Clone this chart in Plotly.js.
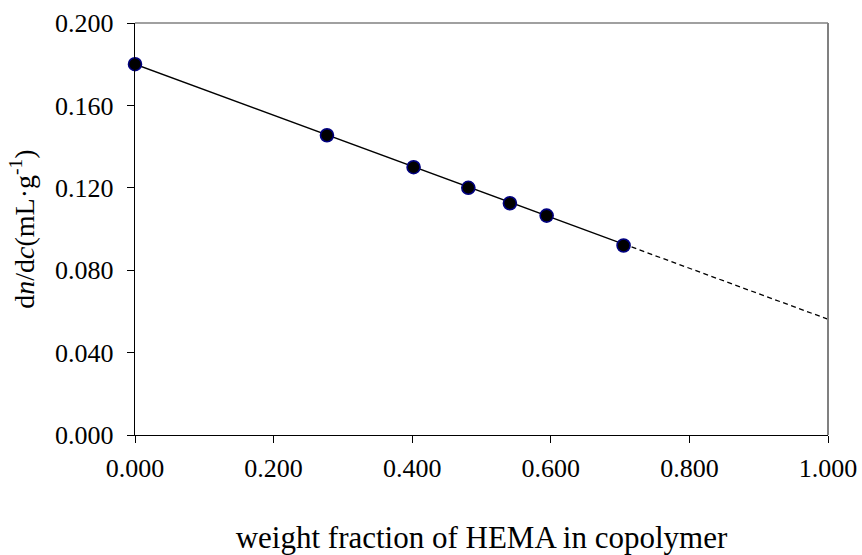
<!DOCTYPE html>
<html>
<head>
<meta charset="utf-8">
<script src="https://cdn.plot.ly/plotly-3.0.1.min.js"></script>
<style>
  html, body { margin: 0; padding: 0; background: #ffffff; }
  #chart { width: 862px; height: 555px; }
</style>
</head>
<body>
<div id="chart"></div>
<script>
// Measured refractive index increment vs. HEMA weight fraction
const hemaFraction = [0.000, 0.277, 0.402, 0.481, 0.541, 0.594, 0.705];
const dndc = [0.180, 0.1455, 0.130, 0.120, 0.1125, 0.1065, 0.092];

// Linear fit: solid over the measured range, dashed extrapolation to 1
const fitX = [0.000, 0.705];
const fitY = [0.180, 0.0927];
const extX = [0.705, 1.000];
const extY = [0.0927, 0.0562];

// Axis ticks
const xTicks = [0.0, 0.2, 0.4, 0.6, 0.8, 1.0];
const yTicks = [0.00, 0.04, 0.08, 0.12, 0.16, 0.20];

const serif = 'Liberation Serif, Times New Roman, serif';

const traces = [
  {
    x: fitX, y: fitY, type: 'scatter', mode: 'lines',
    line: { color: '#000000', width: 1.3 },
    hoverinfo: 'skip', showlegend: false
  },
  {
    x: extX, y: extY, type: 'scatter', mode: 'lines',
    line: { color: '#000000', width: 1.3, dash: '5px,3.5px' },
    hoverinfo: 'skip', showlegend: false
  },
  {
    x: hemaFraction, y: dndc, type: 'scatter', mode: 'markers',
    marker: { color: '#000000', size: 13, line: { color: '#000080', width: 1.6 } },
    cliponaxis: false, showlegend: false
  }
];

const layout = {
  width: 862, height: 555,
  margin: { l: 135, r: 34, t: 23, b: 120 },
  paper_bgcolor: '#ffffff', plot_bgcolor: '#ffffff',
  font: { family: serif, color: '#000000' },
  showlegend: false,
  xaxis: {
    range: [0, 1], tickvals: xTicks, tickformat: '.3f',
    showgrid: false, zeroline: false,
    showline: true, linecolor: '#000000', linewidth: 1.3,
    ticks: 'outside', ticklen: 7, tickwidth: 1, tickcolor: '#000000',
    ticklabelstandoff: 2,
    tickfont: { family: serif, size: 26, color: '#000000' },
    title: { text: 'weight fraction of HEMA in copolymer', font: { family: serif, size: 31, color: '#000000' }, standoff: 44 },
    automargin: false
  },
  yaxis: {
    range: [0, 0.2], tickvals: yTicks, tickformat: '.3f',
    showgrid: false, zeroline: false,
    showline: true, linecolor: '#000000', linewidth: 1.3,
    ticks: 'outside', ticklen: 7, tickwidth: 1, tickcolor: '#000000',
    ticklabelstandoff: 8,
    tickfont: { family: serif, size: 26, color: '#000000' },
    title: { text: 'd<i>n</i>/d<i>c</i>(mL·g<sup>-1</sup>)', font: { family: serif, size: 28, color: '#000000' }, standoff: 12 },
    automargin: false
  },
  shapes: [
    { type: 'line', xref: 'paper', yref: 'paper', x0: 0, x1: 1, y0: 1, y1: 1, line: { color: '#808080', width: 1.5 } },
    { type: 'line', xref: 'paper', yref: 'paper', x0: 1, x1: 1, y0: 0, y1: 1, line: { color: '#808080', width: 2 } }
  ]
};

Plotly.newPlot('chart', traces, layout, { displayModeBar: false, staticPlot: true });
</script>
</body>
</html>
